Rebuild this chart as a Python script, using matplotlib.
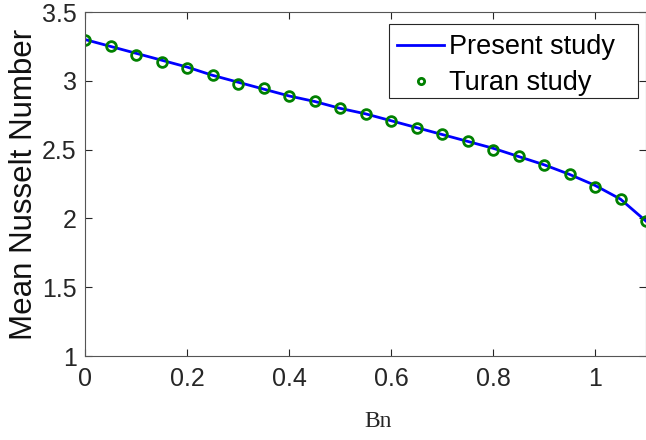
import matplotlib
matplotlib.use("Agg")
import matplotlib.pyplot as plt
from matplotlib.patches import Rectangle
import numpy as np

bn = [0.0, 0.05, 0.1, 0.15, 0.2, 0.25, 0.3, 0.35, 0.4, 0.45, 0.5, 0.55,
      0.6, 0.65, 0.7, 0.75, 0.8, 0.85, 0.9, 0.95, 1.0, 1.05, 1.1]
present = [3.30, 3.25, 3.20, 3.15, 3.10, 3.04, 2.99, 2.94, 2.89, 2.85, 2.80, 2.76,
           2.71, 2.66, 2.61, 2.56, 2.51, 2.45, 2.39, 2.32, 2.24, 2.14, 1.98]
turan = [3.30, 3.25, 3.19, 3.14, 3.09, 3.04, 2.98, 2.95, 2.89, 2.85, 2.80, 2.76,
         2.71, 2.66, 2.61, 2.56, 2.50, 2.45, 2.39, 2.32, 2.23, 2.14, 1.98]
xticks = [0, 0.2, 0.4, 0.6, 0.8, 1]
xticklabels = ["0", "0.2", "0.4", "0.6", "0.8", "1"]
yticks = [1, 1.5, 2, 2.5, 3, 3.5]
yticklabels = ["1", "1.5", "2", "2.5", "3", "3.5"]

W, H = 646, 440
plt.rcParams['font.family'] = ['Liberation Sans', 'DejaVu Sans']
fig = plt.figure(figsize=(W / 100, H / 100), dpi=100)
ax = fig.add_axes([85 / W, 1 - 356 / H, (W - 85) / W, (356 - 12) / H])

ax.plot(bn, present, color=(0, 0, 1), lw=2, label="Present study")
ax.plot(bn, turan, ls='none', marker='o', ms=7, mfc='none', mec=(0, 0.5, 0),
        mew=2, label="Turan study")

ax.set_xlim(0, 1.1)
ax.set_ylim(1, 3.5)
ax.set_xticks(xticks)
ax.set_xticklabels(xticklabels)
ax.set_yticks(yticks)
ax.set_yticklabels(yticklabels)
ax.tick_params(direction='in', top=True, right=True, labelsize=18,
               colors='#262626', length=5, width=0.8, pad=6)
ax.tick_params(axis='x', pad=8)
for s in ax.spines.values():
    s.set_color('#555555')
    s.set_linewidth(0.8)

ax.set_xlabel("Bn", family=['Liberation Serif', 'DejaVu Serif'], fontsize=17,
              color='#262626')
ax.xaxis.set_label_coords((378 - 85) / (W - 85), (356 - 421) / (356 - 12))
ax.xaxis.label.set_va('center')
ax.set_ylabel("Mean Nusselt Number", fontsize=22.5, labelpad=2, color='#111111')

# legend box (MATLAB style) and entries
fig.patches.append(Rectangle((389 / W, 1 - 98 / H), (638 - 389) / W, (98 - 24) / H,
                             transform=fig.transFigure, fill=True, fc='white',
                             ec='#262626', lw=0.8, zorder=5))
leg = fig.legend(loc='upper left', fontsize=19.5, frameon=False,
                 handlelength=1.74, borderpad=0, labelspacing=0.38,
                 handletextpad=0.18, borderaxespad=0,
                 bbox_to_anchor=(397 / W, 1 - 34 / H))
leg.set_zorder(6)
leg.legend_handles[1].set_markersize(4.5)

fig.savefig("out.png", dpi=100)
